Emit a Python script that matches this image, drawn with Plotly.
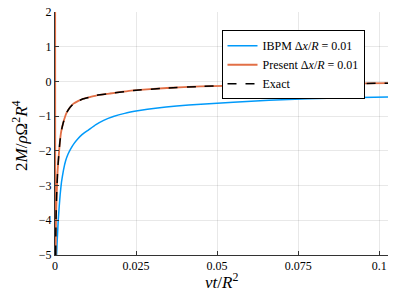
import plotly.graph_objects as go

# Data
t_exact = [0.0002, 0.0003, 0.0005, 0.0008, 0.0011, 0.0015, 0.0019, 0.0026, 0.0036, 0.0046,
           0.0057, 0.0072, 0.0087, 0.0108, 0.0129, 0.0168, 0.0242, 0.0345, 0.0448, 0.06,
           0.075, 0.09, 0.1027]
m_exact = [-5.0, -4.0, -3.3, -2.6, -2.2, -1.75, -1.45, -1.17, -0.9, -0.75,
           -0.64, -0.56, -0.5, -0.45, -0.40, -0.35, -0.26, -0.19, -0.145, -0.11,
           -0.08, -0.065, -0.05]

t_present = [0.0, 0.0001, 0.0002, 0.0003, 0.0005, 0.0008, 0.0011, 0.0015, 0.0019, 0.0026,
             0.0036, 0.0046, 0.0057, 0.0072, 0.0087, 0.0108, 0.0129, 0.0168, 0.0242, 0.0345,
             0.0448, 0.06, 0.075, 0.09, 0.1027]
m_present = [12.0, -7.0, -5.0, -4.0, -3.3, -2.6, -2.2, -1.75, -1.45, -1.17,
             -0.9, -0.75, -0.64, -0.56, -0.5, -0.45, -0.40, -0.35, -0.26, -0.19,
             -0.145, -0.11, -0.08, -0.065, -0.05]

t_ibpm = [0.0004, 0.0005, 0.0007, 0.001, 0.0013, 0.0016, 0.002, 0.0026, 0.0033, 0.004,
          0.0048, 0.0058, 0.007, 0.0085, 0.0103, 0.0125, 0.015, 0.018, 0.0215, 0.026,
          0.031, 0.0375, 0.045, 0.055, 0.066, 0.078, 0.09, 0.1027]
m_ibpm = [-6.0, -4.97, -4.55, -4.0, -3.6, -3.25, -2.9, -2.56, -2.28, -2.1,
          -1.95, -1.8, -1.66, -1.52, -1.4, -1.25, -1.12, -1.01, -0.92, -0.84,
          -0.77, -0.71, -0.655, -0.6, -0.545, -0.5, -0.47, -0.445]

x_ticks = [0, 0.025, 0.05, 0.075, 0.1]
x_labels = ["0", "0.025", "0.05", "0.075", "0.1"]
y_ticks = [-5, -4, -3, -2, -1, 0, 1, 2]
y_labels = ["\u22125", "\u22124", "\u22123", "\u22122", "\u22121", "0", "1", "2"]

font = "Liberation Serif"

fig = go.Figure()
fig.add_trace(go.Scatter(x=t_ibpm, y=m_ibpm, mode="lines",
                         name="IBPM \u0394<i>x</i>/<i>R</i> = 0.01",
                         line=dict(color="#009AFA", width=1.5, shape="spline", smoothing=0.3)))
fig.add_trace(go.Scatter(x=t_present, y=m_present, mode="lines",
                         name="Present \u0394<i>x</i>/<i>R</i> = 0.01",
                         line=dict(color="#E26F46", width=1.8, shape="spline", smoothing=0.3)))
fig.add_trace(go.Scatter(x=t_exact, y=m_exact, mode="lines", name="Exact",
                         line=dict(color="black", width=1.5, dash="dash", shape="spline", smoothing=0.3)))

axis_common = dict(showline=True, linecolor="#333333", linewidth=1, mirror=False,
                   showgrid=True, gridcolor="rgba(0,0,0,0.09)", gridwidth=1,
                   ticks="inside", ticklen=4, tickcolor="#333333",
                   zeroline=False, automargin=False,
                   tickfont=dict(family=font, size=12, color="black"))

fig.update_layout(
    width=399, height=299,
    margin=dict(l=55, r=11, t=12, b=44),
    paper_bgcolor="white", plot_bgcolor="white",
    font=dict(family=font, color="black"),
    showlegend=True,
    legend=dict(x=0.5, y=0.925, xanchor="left", yanchor="top",
                bgcolor="white", bordercolor="black", borderwidth=1,
                font=dict(family=font, size=12, color="black"),
                itemwidth=30, tracegroupgap=0),
    xaxis=dict(range=[0, 0.1027], tickvals=x_ticks, ticktext=x_labels, **axis_common),
    yaxis=dict(range=[-5, 2], tickvals=y_ticks, ticktext=y_labels, **axis_common),
    annotations=[
        dict(text="<i>\u03bdt</i>/<i>R</i><sup>2</sup>", xref="paper", yref="paper",
             x=0.5, y=-0.105, xanchor="center", yanchor="middle", showarrow=False,
             font=dict(family=font, size=17, color="black")),
        dict(text="2<i>M</i>/<i>\u03c1</i>\u03a9<sup>2</sup><i>R</i><sup>4</sup>", xref="paper", yref="paper",
             x=-0.105, y=0.49, xanchor="center", yanchor="middle", showarrow=False, textangle=-90,
             font=dict(family=font, size=17, color="black")),
    ],
)

fig.write_html("out.html", config={"displayModeBar": False},
               post_script="document.body.style.margin='0';document.body.style.padding='0';")
